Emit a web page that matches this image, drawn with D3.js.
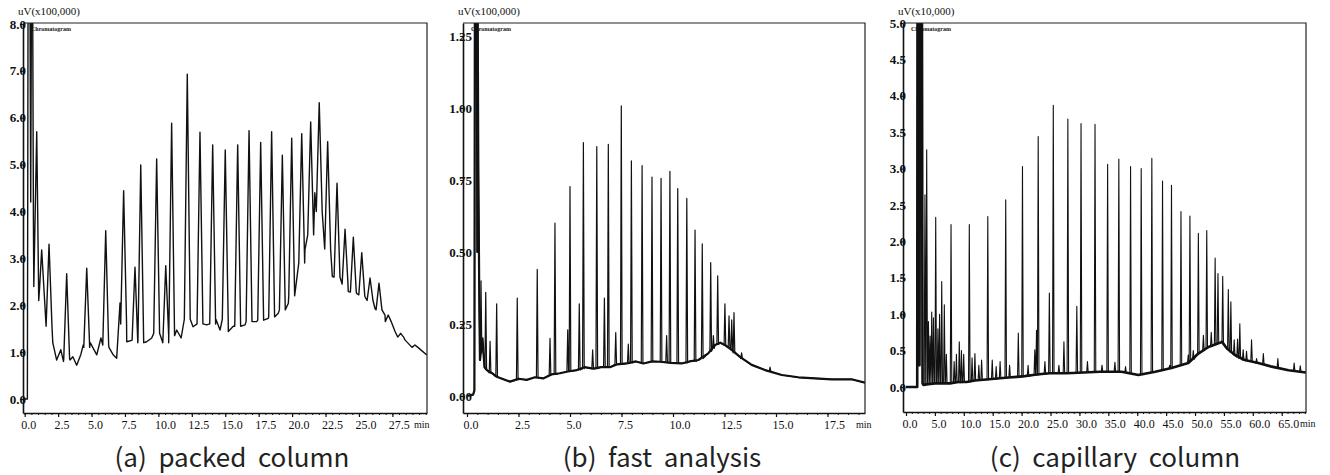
<!DOCTYPE html>
<html><head><meta charset="utf-8">
<script src="https://cdn.jsdelivr.net/npm/d3@7"></script>
<style>body{margin:0;background:#fff} svg{display:block}</style>
</head><body><svg id="chart" width="1330" height="475"></svg>
<script>
// ---------- Panel (a) packed column ----------
const baselineA = [[0.0,0.0],[0.2,0.0],[0.25,8.2],[0.4,8.2],[0.45,4.2],[0.5,8.2],[0.6,8.2],[0.65,3.9],[0.72,2.2],[0.8,4.3],[0.92,2.4],
 [1.1,2.0],[1.3,2.2],[1.45,1.9],[1.65,1.68],[1.9,1.5],[2.1,1.2],[2.39,0.83],[2.7,1.05],[2.9,0.8],[3.39,0.83],[3.6,0.9],[3.89,0.72],
 [4.2,0.95],[4.38,1.15],[4.9,1.2],[5.39,0.94],[5.7,1.3],[5.86,1.62],[6.3,1.1],[6.6,0.95],[6.88,0.87],[7.13,2.05],[7.3,1.6],[7.63,1.22],
 [8.0,1.25],[8.4,1.2],[9.12,1.22],[9.5,1.3],[10.0,1.5],[10.34,1.15],[10.8,1.3],[11.37,1.47],[11.7,1.3],[12.12,1.83],[12.59,1.54],
 [13.0,1.6],[13.61,1.58],[14.3,1.7],[14.61,1.47],[15.11,1.86],[15.23,1.44],[15.6,1.55],[16.48,1.58],[17.0,1.7],[17.35,1.65],
 [18.22,1.72],[18.97,1.83],[19.72,2.04],[20.34,2.54],[20.96,3.18],[21.3,3.5],[21.7,4.4],[22.0,3.9],[22.21,3.53],[22.46,3.39],
 [23.01,2.61],[23.58,2.58],[24.2,2.29],[24.83,2.25],[25.45,2.18],[26.2,1.93],[26.95,1.79],[27.7,1.44],[28.44,1.26],[29.19,1.12],[30.07,0.94]];
// [retention time, apex, foot]
const peaksA = [[0.90,5.7,2.4],[1.27,3.18,2.1],[1.82,3.3,1.55],[3.14,2.67,0.85],[4.64,2.79,1.1],[6.06,3.59,1.15],[7.40,4.44,1.6],
 [8.25,2.81,1.25],[8.68,4.99,1.2],[9.87,5.12,1.4],[10.55,2.84,1.2],[10.99,5.88,1.35],[12.16,6.93,1.7],[13.11,5.69,1.6],[14.06,5.42,1.6],
 [15.0,5.31,1.7],[15.93,5.42,1.55],[16.78,5.72,1.65],[17.65,5.47,1.68],[18.47,5.70,1.75],[19.27,5.2,1.9],[19.97,5.56,2.2],[20.72,5.66,2.9],
 [21.39,5.91,3.5],[22.03,6.32,4.0],[22.66,5.49,3.2],[23.36,4.6,2.6],[23.96,3.62,2.45],[24.58,3.45,2.28],[25.21,3.12,2.22],[25.83,2.58,2.1],
 [26.5,2.47,1.9],[27.19,1.79,1.65],[28.12,1.4,1.32],[29.19,1.15,1.1]];
const xTicksA = [0,2.5,5,7.5,10,12.5,15,17.5,20,22.5,25,27.5];
const yTicksA = [0,1,2,3,4,5,6,7,8];

// ---------- Panel (b) fast analysis ----------
const baselineB = [[0,0.0],[0.3,0.005],[0.36,0.02],[0.38,1.32],[0.48,1.32],[0.5,0.5],[0.52,1.32],[0.55,0.8],[0.6,0.3],[0.63,0.125],
 [0.75,0.2],[0.85,0.1],[0.96,0.09],[1.2,0.08],[1.44,0.067],[1.7,0.06],[2.09,0.05],[2.5,0.06],[2.9,0.056],[3.3,0.065],[3.7,0.061],
 [4.1,0.075],[4.51,0.079],[4.9,0.085],[5.33,0.09],[5.7,0.1],[6.13,0.095],[6.5,0.1],[6.94,0.10],[7.3,0.11],[7.75,0.113],[8.2,0.12],
 [8.56,0.113],[9.0,0.12],[9.37,0.119],[9.9,0.115],[10.42,0.113],[10.8,0.12],[11.23,0.125],[11.71,0.148],[12.04,0.177],[12.3,0.185],
 [12.52,0.177],[12.85,0.16],[13.25,0.136],[13.82,0.108],[14.47,0.09],[15.28,0.073],[16.08,0.065],[16.89,0.061],[17.7,0.058],
 [18.67,0.058],[19.32,0.046]];
const peaksB = [[0.68,0.40,0.15],[0.91,0.36,0.1],[1.12,0.19,0.08],[1.44,0.32,0.067],[2.44,0.34,0.055],[3.41,0.44,0.063],[4.03,0.20,0.072],
 [4.27,0.60,0.075],[4.89,0.23,0.085],[5.0,0.727,0.085],[5.45,0.32,0.09],[5.65,0.88,0.095],[6.1,0.16,0.095],[6.30,0.866,0.095],
 [6.67,0.34,0.1],[6.86,0.874,0.1],[7.22,0.22,0.11],[7.49,1.007,0.11],[7.83,0.18,0.113],[7.98,0.816,0.115],[8.50,0.80,0.115],
 [8.98,0.76,0.12],[9.42,0.756,0.119],[9.69,0.21,0.117],[9.85,0.78,0.115],[10.23,0.72,0.113],[10.67,0.686,0.115],[11.07,0.576,0.12],
 [11.42,0.528,0.13],[11.83,0.463,0.155],[11.96,0.21,0.165],[12.17,0.417,0.18],[12.52,0.32,0.177],[12.72,0.278,0.17],[12.85,0.264,0.16],
 [12.96,0.29,0.15],[13.33,0.15,0.13],[14.71,0.10,0.085]];
const xTicksB = [0,2.5,5,7.5,10,12.5,15,17.5];
const yTicksB = [0,0.25,0.5,0.75,1.0,1.25];

// ---------- Panel (c) capillary column ----------
const baselineC = [[0,0],[1.94,0.0],[1.99,5.1],[2.28,5.1],[2.33,0.3],[2.42,5.1],[2.76,5.1],[2.86,0.05],[3.0,0.03],[3.88,0.04],[5.04,0.05],
 [6.3,0.05],[7.62,0.05],[9.01,0.07],[10.46,0.07],[11.92,0.09],[13.37,0.10],[14.82,0.11],[16.28,0.12],[17.73,0.13],[19.18,0.14],[20.54,0.15],
 [21.99,0.165],[23.45,0.18],[24.9,0.19],[27.81,0.19],[30.71,0.20],[33.52,0.21],[37.3,0.21],[40.21,0.165],[43.12,0.21],[45.93,0.26],[48.83,0.33],
 [50.58,0.46],[52.32,0.55],[54.06,0.60],[54.65,0.62],[55.52,0.53],[56.92,0.44],[58.62,0.37],[60.94,0.33],[63.27,0.28],[66.18,0.23],[69.18,0.2]];
const peaksC = [[3.28,2.64,0.05],[3.58,3.26,0.05],[3.88,0.9,0.05],[4.17,0.7,0.05],[4.45,1.03,0.05],[4.75,0.95,0.05],[5.14,2.33,0.05],
 [5.52,0.8,0.05],[5.81,1.0,0.05],[6.18,1.45,0.05],[6.63,1.13,0.05],[6.98,0.45,0.05],[7.79,2.23,0.05],[8.33,0.35,0.06],[8.72,0.45,0.06],
 [9.22,0.62,0.06],[9.59,0.5,0.06],[9.98,0.45,0.07],[10.95,2.23,0.07],[11.43,0.40,0.08],[11.92,0.46,0.09],[12.6,0.30,0.09],[13.08,0.37,0.10],
 [14.15,2.34,0.10],[14.92,0.37,0.11],[15.6,0.28,0.11],[16.28,0.35,0.12],[17.25,2.57,0.12],[17.92,0.30,0.13],[19.43,0.74,0.14],[20.15,3.03,0.14],
 [21.12,0.30,0.15],[22.28,0.51,0.165],[22.58,0.78,0.165],[22.87,3.44,0.17],[24.03,0.35,0.18],[24.8,1.29,0.19],[25.48,3.87,0.19],[26.45,0.30,0.19],
 [27.32,0.62,0.19],[28.0,3.68,0.19],[29.55,1.11,0.2],[30.28,3.62,0.2],[31.39,0.35,0.2],[32.7,3.61,0.21],[33.91,0.30,0.21],[34.88,3.06,0.21],
 [36.14,0.34,0.21],[36.82,3.13,0.21],[37.98,0.28,0.2],[38.85,3.03,0.19],[40.69,3.0,0.18],[42.53,3.14,0.2],[44.38,2.83,0.23],[45.63,0.30,0.26],
 [45.93,2.77,0.26],[47.57,2.41,0.3],[48.83,0.44,0.33],[49.12,2.35,0.35],[49.7,0.5,0.38],[50.58,2.11,0.46],[51.45,0.71,0.5],[52.03,2.15,0.53],
 [52.81,0.75,0.56],[53.48,1.77,0.58],[53.97,1.56,0.6],[54.79,1.52,0.61],[55.76,1.34,0.52],[56.2,1.17,0.48],[56.78,0.65,0.44],[57.36,0.66,0.41],
 [57.75,0.87,0.39],[58.33,0.51,0.37],[58.91,0.49,0.36],[59.78,0.65,0.35],[60.65,0.39,0.33],[61.82,0.46,0.31],[64.33,0.39,0.26],[67.15,0.33,0.22],
 [68.21,0.29,0.21]];
const xTicksC = [0,5,10,15,20,25,30,35,40,45,50,55,60,65];
const yTicksC = [0,0.5,1,1.5,2,2.5,3,3.5,4,4.5,5];

const unitLabels = ["uV(x100,000)", "uV(x100,000)", "uV(x10,000)"];
const captions = ["(a)  packed  column", "(b)  fast  analysis", "(c)  capillary  column"];

const panels = [
  {key:"a", left:23, right:427, top:23, bottom:413, xDom:[-0.127,30.09], yDom:[-0.30,8.02], xTicks:xTicksA, minor:0.5, minX:414,
   yTicks:yTicksA, yFmt:d3.format(".1f"), yLabDx:3, base:baselineA, peaks:peaksA, hw:0.22, bw:0, pw:1.4, unit:unitLabels[0], cap:captions[0], capX:232},
  {key:"b", left:463, right:865, top:23, bottom:413, xDom:[-0.194,19.32], yDom:[-0.059,1.295], xTicks:xTicksB, minor:0.5, minX:856,
   yTicks:yTicksB, yFmt:d3.format(".2f"), yLabDx:9, base:baselineB, peaks:peaksB, hw:0.04, bw:2.2, pw:1.2, unit:unitLabels[1], cap:captions[1], capX:662},
  {key:"c", left:903, right:1306, top:23, bottom:412, xDom:[-0.52,69.2], yDom:[-0.343,5.0], xTicks:xTicksC, minor:1, minX:1300,
   yTicks:yTicksC, yFmt:d3.format(".1f"), yLabDx:3, base:baselineC, peaks:peaksC, hw:0.13, bw:2.6, pw:1.1, unit:unitLabels[2], cap:captions[2], capX:1115}
];

// merge the baseline readings and the peak readings into one trace, in time order
function buildTrace(base, peaks, hw) {
  const pts = base.filter(b => !peaks.some(p => Math.abs(b[0] - p[0]) <= hw));
  peaks.forEach(p => { pts.push([p[0] - hw, p[2]], [p[0], p[1]], [p[0] + hw, p[2]]); });
  return pts.sort((u, v) => u[0] - v[0]);
}

const svg = d3.select("#chart");
const ink = "#111";

panels.forEach(p => {
  const x = d3.scaleLinear().domain(p.xDom).range([p.left, p.right]);
  const y = d3.scaleLinear().domain(p.yDom).range([p.bottom, p.top]);
  const g = svg.append("g");

  g.append("clipPath").attr("id", "clip-" + p.key)
    .append("rect").attr("x", p.left).attr("y", p.top).attr("width", p.right - p.left).attr("height", p.bottom - p.top);

  const plot = g.append("g").attr("clip-path", `url(#clip-${p.key})`);
  const line = d3.line().x(d => x(d[0])).y(d => y(d[1]));

  if (p.bw > 0) {
    plot.append("path").datum(p.base).attr("d", line)
      .attr("fill", "none").attr("stroke", ink).attr("stroke-width", p.bw).attr("stroke-linejoin", "round");
  }
  plot.append("path").datum(buildTrace(p.base, p.peaks, p.hw)).attr("d", line)
    .attr("fill", "none").attr("stroke", ink).attr("stroke-width", p.pw).attr("stroke-linejoin", "round");

  // frame (top & right)
  g.append("path").attr("d", `M${p.left},${p.top}H${p.right}V${p.bottom}`)
    .attr("fill", "none").attr("stroke", "#222").attr("stroke-width", 1.2);

  // x axis
  const xMinor = d3.range(0, p.xDom[1], p.minor);
  const xa = g.append("g").attr("transform", `translate(0,${p.bottom})`)
    .call(d3.axisBottom(x).tickValues(xMinor).tickSize(2).tickFormat(""));
  xa.select(".domain").remove();
  xa.selectAll("line").attr("stroke", ink).attr("stroke-width", 1);
  const xb = g.append("g").attr("transform", `translate(0,${p.bottom})`)
    .call(d3.axisBottom(x).tickValues(p.xTicks).tickSize(4).tickSizeOuter(0).tickFormat(d3.format(".1f")));
  xb.select(".domain").attr("stroke", ink).attr("stroke-width", 1.6);
  xb.selectAll("line").attr("stroke", ink).attr("stroke-width", 1.2);
  xb.selectAll("text").attr("text-anchor", "start").attr("dx", -4).attr("y", 7).attr("dy", "0.71em")
    .attr("font-family", "'Liberation Serif', serif").attr("font-size", 12).attr("fill", ink);
  g.append("text").attr("x", p.minX).attr("y", p.bottom + 15).attr("text-anchor", "start")
    .attr("font-family", "'Liberation Serif', serif").attr("font-size", 10).attr("fill", ink).text("min");

  // y axis
  const ya = g.append("g").attr("transform", `translate(${p.left},0)`)
    .call(d3.axisLeft(y).tickValues(p.yTicks).tickSize(3).tickSizeOuter(0).tickFormat(p.yFmt));
  ya.select(".domain").attr("stroke", ink).attr("stroke-width", 1.6);
  ya.selectAll("line").attr("stroke", ink);
  ya.selectAll("text").attr("x", p.yLabDx).attr("text-anchor", "end")
    .attr("font-family", "'Liberation Serif', serif").attr("font-size", 13).attr("font-weight", "bold").attr("fill", ink);

  // unit & in-plot label
  g.append("text").attr("x", p.left - 5).attr("y", 15)
    .attr("font-family", "'Liberation Serif', serif").attr("font-size", 11).attr("fill", ink).text(p.unit);
  g.append("text").attr("x", p.left + 8).attr("y", 31)
    .attr("font-family", "'Liberation Serif', serif").attr("font-size", 6).attr("font-weight", "bold").attr("fill", ink).text("Chromatogram");

  // caption
  svg.append("text").attr("x", p.capX).attr("y", 467).attr("text-anchor", "middle")
    .attr("font-family", "'Noto Sans CJK KR','Noto Sans',sans-serif").attr("font-size", 26).attr("fill", "#222")
    .attr("xml:space", "preserve").style("white-space", "pre").text(p.cap);
});
</script>
</body></html>
